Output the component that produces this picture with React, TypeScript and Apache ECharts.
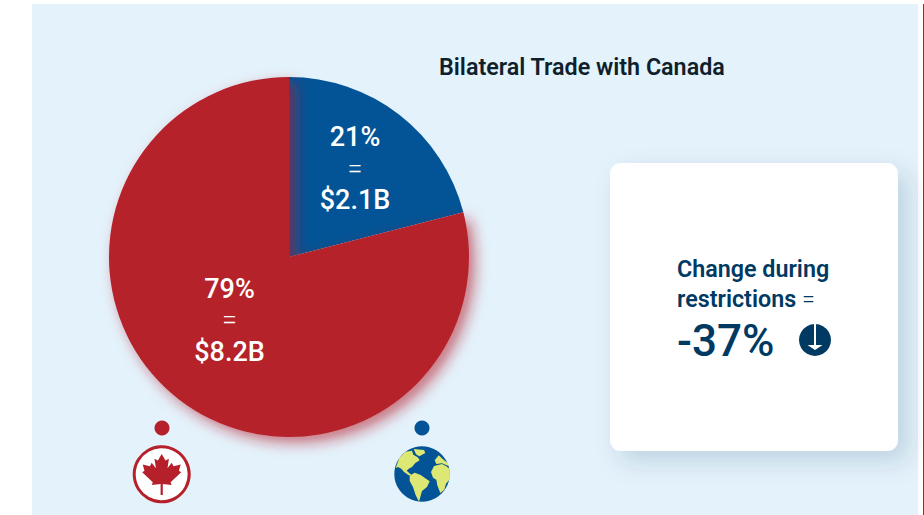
import React, { useEffect, useRef } from "react";
import * as echarts from "echarts";

const sliceNames = ["World", "Canada"];
const sliceShares = [21, 79];
const sliceAmounts = ["$2.1B", "$8.2B"];
const sliceColors = ["#035496", "#b5202b"];
const titleText = "Bilateral Trade with Canada";
const cardLines = ["Change during", "restrictions "];
const cardValue = "-37%";

const LEAF =
  "M0 -20.3 L3.8 -13.7 L7.2 -15.5 L5.8 -6 L10 -11.5 L11.8 -8 L19 -9.7 L17.2 -3.5 L19.5 -2 L8.9 8 L9.9 10.8 L1.1 9.8 L1.1 20.7 L-1.1 20.7 L-1.1 9.8 L-9.9 10.8 L-8.9 8 L-19.5 -2 L-17.2 -3.5 L-19 -9.7 L-11.8 -8 L-10 -11.5 L-5.8 -6 L-7.2 -15.5 L-3.8 -13.7 Z";
const landShapes = [
  [31, 85, 42, 55, 60, 36, 80, 33, 84, 45, 97, 53, 103, 62, 90, 70, 80, 82, 70, 87, 64, 93, 74, 102, 84, 108, 70, 107, 56, 97, 48, 87, 38, 82],
  [85, 28, 116, 31, 120, 40, 102, 50, 92, 44],
  [73, 108, 88, 99, 106, 106, 120, 116, 133, 125, 125, 142, 110, 154, 105, 172, 101, 186, 91, 167, 83, 142, 73, 124],
  [137, 97, 146, 79, 170, 73, 183, 80, 193, 88, 194, 118, 182, 132, 177, 150, 165, 160, 156, 137, 153, 120, 143, 114],
  [148, 62, 160, 47, 172, 58, 187, 70, 191, 80, 170, 71, 153, 73],
];
const LAND = landShapes
  .map((pts) => {
    let d = "";
    for (let i = 0; i < pts.length; i += 2) {
      d += `${i === 0 ? "M" : "L"}${((pts[i] - 110) / 3).toFixed(1)} ${((pts[i + 1] - 103) / 3).toFixed(1)} `;
    }
    return d + "Z";
  })
  .join(" ");
const ARROW = "M-1 -16 L1 -16 L1 5 L7.5 5 L0 10 L-7.5 5 L-1 5 Z";

echarts.graphic.registerShape("leafIcon", echarts.graphic.extendPath(LEAF as any, {}) as any);
echarts.graphic.registerShape("landIcon", echarts.graphic.extendPath(LAND as any, {}) as any);
echarts.graphic.registerShape("arrowIcon", echarts.graphic.extendPath(ARROW as any, {}) as any);

const FONT = "Roboto";
const NAVY = "#003a63";

export default function App() {
  const ref = useRef<HTMLDivElement>(null);
  useEffect(() => {
    document.body.style.margin = "0";
    document.body.style.background = "#ffffff";
    const chart = echarts.init(ref.current!, null, { renderer: "svg" });
    const labelShift = [
      { dx: 9, dy: -15 },
      { dx: -2.5, dy: -10 },
    ];
    chart.setOption({
      animation: false,
      backgroundColor: "#ffffff",
      textStyle: { fontFamily: FONT },
      series: [
        {
          type: "pie",
          center: [289, 257],
          radius: [0, 180],
          startAngle: 90,
          clockwise: true,
          z: 3,
          silent: true,
          labelLine: { show: false },
          data: sliceNames.map((name, i) => ({
            name,
            value: sliceShares[i],
            itemStyle:
              i === 1
                ? { color: sliceColors[i], shadowBlur: 14, shadowOffsetX: 6, shadowOffsetY: 6, shadowColor: "rgba(181,32,43,0.6)" }
                : { color: sliceColors[i] },
            label: {
              show: true,
              position: "inside",
              formatter: `{a|${sliceShares[i]}%}\n{b|=}\n{a|${sliceAmounts[i]}}`,
              rich: {
                a: { fontFamily: FONT, fontSize: 27, fontWeight: 500, color: "#ffffff", lineHeight: 31.5, align: "center" },
                b: { fontFamily: FONT, fontSize: 27, fontWeight: 300, color: "#ffffff", lineHeight: 31.5, align: "center" },
              },
            },
          })),
          labelLayout: (p: any) => labelShift[p.dataIndex],
        },
      ],
      graphic: [
        { type: "rect", z: -10, shape: { x: 32, y: 4, width: 886, height: 511 }, style: { fill: "#e4f2fb" } },
        { type: "rect", z: -10, shape: { x: 923, y: 4, width: 1, height: 511 }, style: { fill: "#9c2a32" } },
        {
          type: "rect",
          z: 1,
          shape: { x: 610, y: 163, width: 288, height: 288, r: 11 },
          style: { fill: "#ffffff", shadowBlur: 24, shadowOffsetX: 10, shadowOffsetY: 10, shadowColor: "rgba(0,58,99,0.17)" },
        },
        {
          type: "text",
          z: 5,
          x: 439,
          y: 67,
          style: { text: titleText, fontFamily: FONT, fontSize: 23.3, fontWeight: 600, fill: "#0f1f2c", textVerticalAlign: "middle" },
        },
        {
          type: "text",
          z: 5,
          x: 677,
          y: 269,
          style: { text: cardLines[0], fontFamily: FONT, fontSize: 23.3, fontWeight: 600, fill: NAVY, textVerticalAlign: "middle" },
        },
        {
          type: "text",
          z: 5,
          x: 677,
          y: 299,
          style: {
            text: `{s|${cardLines[1]}}{e|=}`,
            textVerticalAlign: "middle",
            rich: {
              s: { fontFamily: FONT, fontSize: 23.3, fontWeight: 600, fill: NAVY, color: NAVY },
              e: { fontFamily: FONT, fontSize: 23.3, fontWeight: 300, fill: NAVY, color: NAVY },
            },
          },
        },
        {
          type: "text",
          z: 5,
          x: 677,
          y: 341,
          style: { text: cardValue, fontFamily: FONT, fontSize: 44, fontWeight: 500, fill: NAVY, textVerticalAlign: "middle" },
        },
        { type: "circle", z: 5, shape: { cx: 815, cy: 340, r: 16 }, style: { fill: NAVY } },
        { type: "arrowIcon", z: 6, x: 815, y: 340, style: { fill: "#ffffff" } },
        { type: "circle", z: 5, shape: { cx: 162, cy: 428, r: 7.5 }, style: { fill: sliceColors[1] } },
        { type: "circle", z: 5, shape: { cx: 422, cy: 428, r: 7.5 }, style: { fill: sliceColors[0] } },
        {
          type: "circle",
          z: 5,
          shape: { cx: 161.7, cy: 474.3, r: 27.5 },
          style: { fill: "#ffffff", stroke: sliceColors[1], lineWidth: 3 },
        },
        { type: "leafIcon", z: 6, x: 161.7, y: 474.3, style: { fill: sliceColors[1] } },
        { type: "circle", z: 5, shape: { cx: 422, cy: 474, r: 27.7 }, style: { fill: sliceColors[0] } },
        { type: "landIcon", z: 6, x: 422, y: 474, style: { fill: "#dce873" } },
      ],
    });
    return () => chart.dispose();
  }, []);
  return <div ref={ref} style={{ width: 924, height: 515 }} />;
}
